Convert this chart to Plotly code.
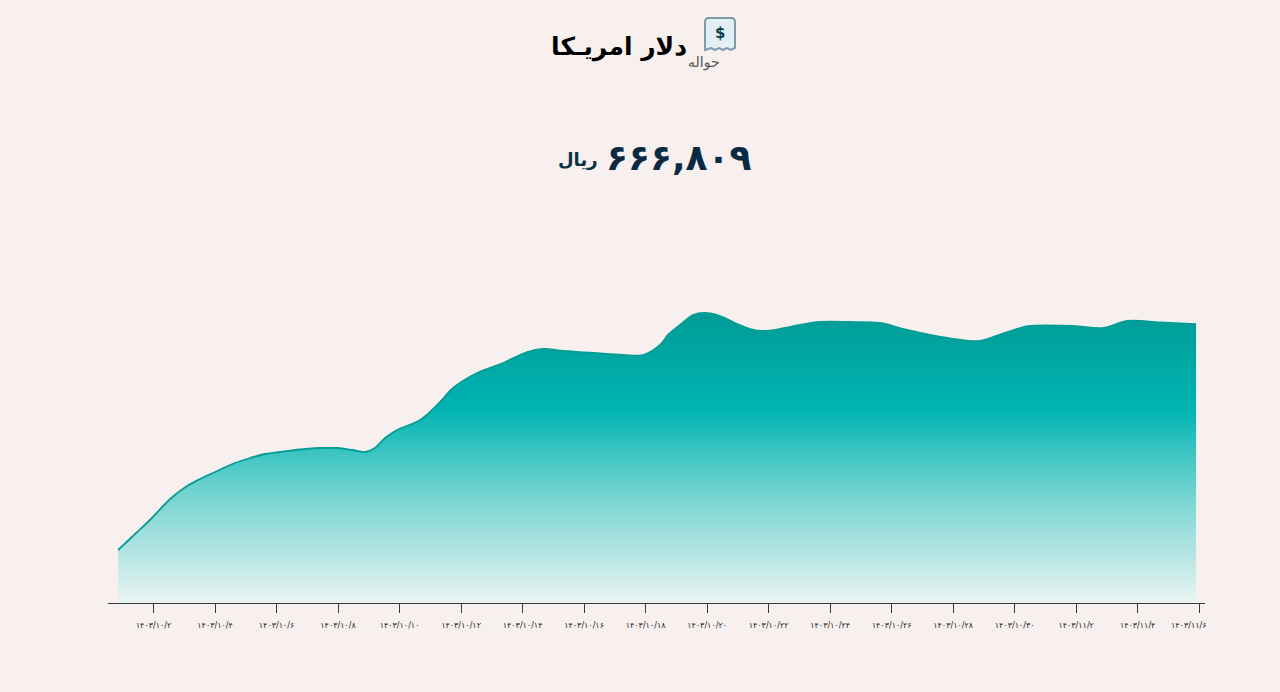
import plotly.graph_objects as go

# days counted from the start of month 10 (11/1 is day 31), rates in rial
days = [0.85, 1.40, 1.95, 2.54, 3.09, 3.51, 4.00, 4.65, 5.14, 5.63, 6.11, 6.76, 7.41, 8.00,
        8.46, 8.88, 9.20, 9.53, 9.92, 10.67, 11.32, 11.74, 12.52, 13.37, 14.15, 14.67,
        15.32, 16.29, 17.27, 17.92, 18.47, 18.73, 19.12, 19.54, 19.93, 20.42, 20.91,
        21.40, 21.89, 22.54, 23.02, 23.67, 24.65, 25.62, 26.50, 27.80, 28.87, 29.30,
        30.18, 30.50, 31.90, 32.88, 33.66, 34.73, 35.90]
rates = [632950, 635350, 637750, 640600, 642550, 643600, 644650, 646000, 646750, 647350,
         647650, 648025, 648250, 648250, 647950, 647650, 648250, 649750, 650950, 652450,
         655150, 657250, 659500, 661000, 662650, 663100, 662800, 662500, 662200, 662200,
         663700, 665200, 666700, 668200, 668500, 668050, 667000, 666100, 665800, 666250,
         666700, 667150, 667150, 667000, 665950, 664750, 664300, 664900, 666250, 666550,
         666550, 666250, 667300, 667075, 666809]

tick_days = [2, 4, 6, 8, 10, 12, 14, 16, 18, 20, 22, 24, 26, 28, 30, 32, 34, 36]
tick_labels = ["۱۴۰۳/۱۰/۲", "۱۴۰۳/۱۰/۴", "۱۴۰۳/۱۰/۶", "۱۴۰۳/۱۰/۸", "۱۴۰۳/۱۰/۱۰", "۱۴۰۳/۱۰/۱۲",
               "۱۴۰۳/۱۰/۱۴", "۱۴۰۳/۱۰/۱۶", "۱۴۰۳/۱۰/۱۸", "۱۴۰۳/۱۰/۲۰", "۱۴۰۳/۱۰/۲۲", "۱۴۰۳/۱۰/۲۴",
               "۱۴۰۳/۱۰/۲۶", "۱۴۰۳/۱۰/۲۸", "۱۴۰۳/۱۰/۳۰", "۱۴۰۳/۱۱/۲", "۱۴۰۳/۱۱/۴", "۱۴۰۳/۱۱/۶"]

title = "دلار امریـکا"
subtitle = "حواله"
price = "۶۶۶,۸۰۹"
unit = "ریال"

BG = "#f7f0ee"
FONT = "DejaVu Sans"
W, H = 1280, 692
LEFT, RIGHT, TOP, BOTTOM = 108, 1205, 200, 603
base = 625000


def px(x):
    return (x - LEFT) / (RIGHT - LEFT)


def py(y):
    return (BOTTOM - y) / (BOTTOM - TOP)


def label(fig, x, y, text, size, color, bold=False):
    fig.add_annotation(xref="paper", yref="paper", x=px(x), y=py(y), text=f"<b>{text}</b>" if bold else text,
                       showarrow=False, xanchor="center", yanchor="middle",
                       font=dict(family=FONT, size=size, color=color))


fig = go.Figure()
fig.add_trace(go.Scatter(x=days, y=[base] * len(days), mode="lines", line=dict(width=0), hoverinfo="skip"))
fig.add_trace(go.Scatter(x=days, y=rates, mode="lines", fill="tonexty",
                         line=dict(color="#069c96", width=1.8, shape="spline", smoothing=1),
                         fillgradient=dict(type="vertical",
                                           colorscale=[[0, "#e9f4f2"], [0.35, "#7dd6d3"],
                                                       [0.67, "#00b4b2"], [1, "#009c96"]])))

# the last label sits left of its tick in the original, so it is placed by hand
fig.update_xaxes(range=[0.52, 36.19], tickmode="array", tickvals=tick_days, ticktext=tick_labels[:-1] + [""],
                 ticks="outside", ticklen=9, tickwidth=1.2, tickcolor="#3a3a3a", showgrid=False, zeroline=False,
                 showline=True, linecolor="#3a3a3a", linewidth=1.2, tickangle=0, ticklabelstandoff=5,
                 tickfont=dict(family=FONT, size=8, color="#222222"))
fig.update_yaxes(range=[base, base + (BOTTOM - TOP) * 150], visible=False)
label(fig, 1188, 625, tick_labels[-1], 8, "#222222")

# receipt icon
icon = (f"M {px(709)} {py(18)} L {px(731)} {py(18)} Q {px(735)} {py(18)} {px(735)} {py(22)} L {px(735)} {py(48)} "
        f"L {px(731)} {py(50)} L {px(727)} {py(48)} L {px(723)} {py(50)} L {px(719)} {py(48)} L {px(715)} {py(50)} "
        f"L {px(711)} {py(48)} L {px(705)} {py(50)} L {px(705)} {py(22)} Q {px(705)} {py(18)} {px(709)} {py(18)} Z")
fig.add_shape(type="path", xref="paper", yref="paper", path=icon, fillcolor="#e3eff2",
              line=dict(color="#7c9cab", width=2))
label(fig, 720, 33, "$", 15, "#0b3f52", bold=True)

label(fig, 619, 47, title, 25, "#000000", bold=True)
label(fig, 704, 62, subtitle, 14, "#555555")
label(fig, 679, 158, price, 36, "#0a2a44", bold=True)
label(fig, 578, 160, unit, 18, "#0a3247", bold=True)

fig.update_layout(width=W, height=H, showlegend=False, paper_bgcolor=BG, plot_bgcolor=BG,
                  margin=dict(l=LEFT, r=W - RIGHT, t=TOP, b=H - BOTTOM, pad=0))
fig.write_html("out.html", config=dict(displayModeBar=False),
               post_script="document.body.style.margin='0';document.body.style.background='#f7f0ee';")
